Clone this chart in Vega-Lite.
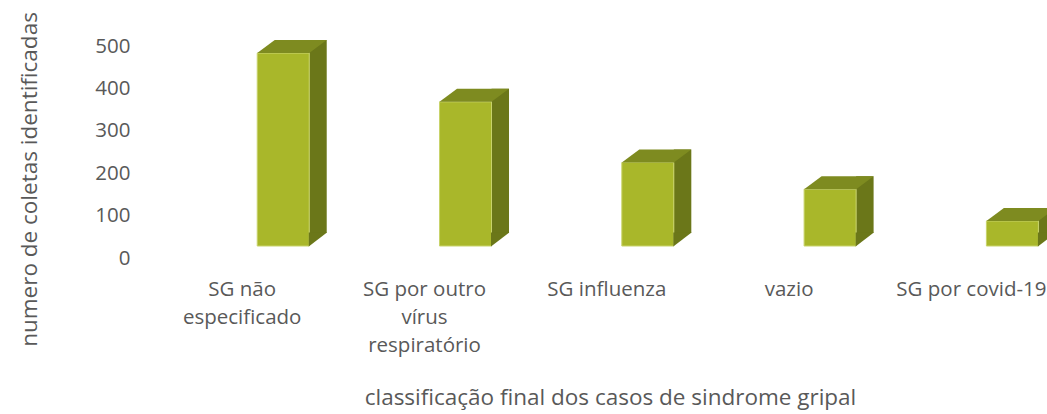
{
  "$schema": "https://vega.github.io/schema/vega-lite/v6.json",
  "width": 897,
  "height": 212,
  "autosize": {"type": "none"},
  "padding": {"left": 150, "top": 46, "right": 0, "bottom": 156},
  "background": "white",
  "config": {"view": {"stroke": null}, "font": "Open Sans"},
  "data": {
    "values": [
      {"classificacao": "SG não especificado", "valor": 455},
      {"classificacao": "SG por outro vírus respiratório", "valor": 340},
      {"classificacao": "SG influenza", "valor": 197},
      {"classificacao": "vazio", "valor": 134},
      {"classificacao": "SG por covid-19", "valor": 59}
    ]
  },
  "encoding": {
    "x": {
      "field": "classificacao",
      "type": "nominal",
      "sort": null,
      "scale": {"paddingInner": 0.7148, "paddingOuter": 0.3177, "align": 0.9257},
      "axis": {
        "title": "classificação final dos casos de sindrome gripal",
        "labelAngle": 0,
        "labelOffset": -41,
        "labelPadding": 37,
        "labelBaseline": "alphabetic",
        "labelLineHeight": 28,
        "labelFontSize": 20.5,
        "labelColor": "#595959",
        "labelLimit": 0,
        "labelOverlap": false,
        "labelExpr": "datum.value == 'SG não especificado' ? ['SG não', 'especificado'] : datum.value == 'SG por outro vírus respiratório' ? ['SG por outro', 'vírus', 'respiratório'] : datum.value",
        "titleX": 460,
        "titleY": 146,
        "titleBaseline": "alphabetic",
        "titleAlign": "center",
        "titleFontSize": 22.5,
        "titleFontWeight": "normal",
        "titleColor": "#595959",
        "domain": false,
        "ticks": false,
        "tickSize": 0,
        "grid": false
      }
    },
    "y": {
      "field": "valor",
      "type": "quantitative",
      "scale": {"domain": [0, 500], "nice": false},
      "axis": {
        "title": "numero de coletas identificadas",
        "values": [0, 100, 200, 300, 400, 500],
        "labelPadding": 20,
        "labelFontSize": 20.5,
        "labelColor": "#595959",
        "domain": false,
        "ticks": false,
        "tickSize": 0,
        "grid": false,
        "titleX": -114,
        "titleY": 133,
        "titleAngle": 270,
        "titleBaseline": "alphabetic",
        "titleAlign": "center",
        "titleFontSize": 22.5,
        "titleFontWeight": "normal",
        "titleColor": "#595959"
      }
    }
  },
  "layer": [
    {
      "mark": {"type": "bar", "color": "#6B7719", "width": 17.5, "xOffset": 34.75, "yOffset": -25, "y2Offset": -25},
      "encoding": {"y2": {"datum": 0}}
    },
    {
      "mark": {"type": "bar", "color": "#A9B72A", "stroke": "#C8D36A", "strokeWidth": 1, "yOffset": -12, "y2Offset": -12},
      "encoding": {"y2": {"datum": 0}}
    },
    {
      "mark": {"type": "point", "shape": "M-26,-12L26,-12L43.5,-25L-8.5,-25Z", "size": 4, "filled": true, "color": "#7E8B20", "opacity": 1, "strokeWidth": 0}
    },
    {
      "mark": {"type": "point", "shape": "M25.5,-11.5L25.5,-25.5L43.75,-25.5Z", "size": 4, "filled": true, "color": "#6B7719", "opacity": 1, "strokeWidth": 0},
      "encoding": {"y": {"datum": 0}}
    }
  ]
}
